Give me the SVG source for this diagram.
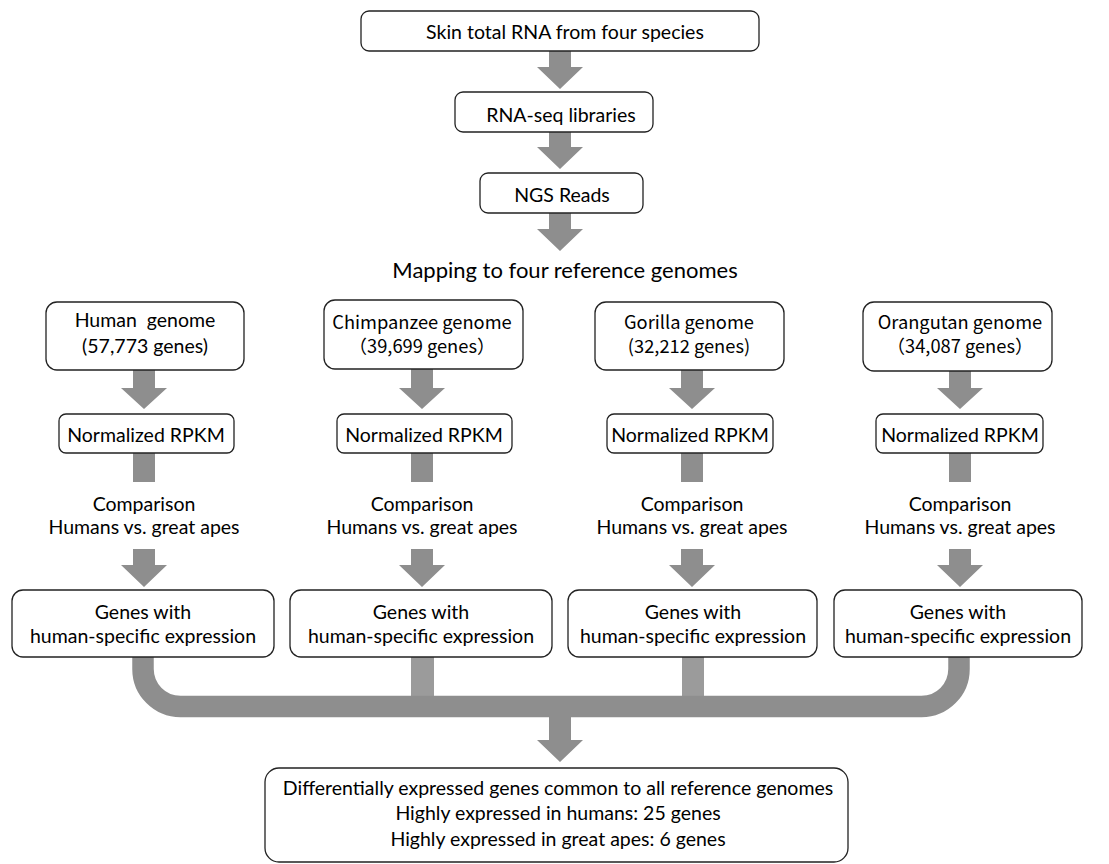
<svg xmlns="http://www.w3.org/2000/svg" width="1109" height="864" viewBox="0 0 1109 864">
<style>
.box{fill:#fff;stroke:#222;stroke-width:1.3}
.t{font-family:Lato,"Liberation Sans",sans-serif;font-size:19.5px;fill:#000;text-anchor:middle}
.j{font-family:"Noto Sans CJK JP","Noto Sans",sans-serif;font-size:18.3px;fill:#000;text-anchor:middle}
.big{font-size:22px}
.arr{fill:#8e8e8e}
.stub{fill:#9b9b9b}
.band{fill:none;stroke:#8e8e8e;stroke-width:21.5}
</style>
<rect width="1109" height="864" fill="#fff"/>
<g id="connectors">
<polygon class="arr" points="549,51 571,51 571,67 583,67 560,89 537,67 549,67"/>
<polygon class="arr" points="549,132 571,132 571,147 583,147 560,169 537,147 549,147"/>
<polygon class="arr" points="549,213 571,213 571,229 583,229 560,251 537,229 549,229"/>
<polygon class="arr" points="133,370 155,370 155,388 167,388 144,409 121,388 133,388"/>
<polygon class="arr" points="411,369 433,369 433,388 445,388 422,409 399,388 411,388"/>
<polygon class="arr" points="681,370 703,370 703,388 715,388 692,409 669,388 681,388"/>
<polygon class="arr" points="949,371 971,371 971,388 983,388 960,409 937,388 949,388"/>
<rect class="arr" x="133" y="453" width="22" height="29"/>
<rect class="arr" x="411" y="453" width="22" height="29"/>
<rect class="arr" x="681" y="453" width="22" height="29"/>
<rect class="arr" x="949" y="453" width="22" height="29"/>
<polygon class="arr" points="133,549 155,549 155,565 167,565 144,587 121,565 133,565"/>
<polygon class="arr" points="411,549 433,549 433,565 445,565 422,587 399,565 411,565"/>
<polygon class="arr" points="681,549 703,549 703,565 715,565 692,587 669,565 681,565"/>
<polygon class="arr" points="949,549 971,549 971,565 983,565 960,587 937,565 949,565"/>
<rect class="stub" x="411" y="657" width="23" height="40"/>
<rect class="stub" x="682" y="657" width="22" height="40"/>
<path class="band" d="M143,657 V669 A37.5,37.5 0 0 0 180.5,706.5 H921.5 A37.5,37.5 0 0 0 959,669 V657"/>
<polygon class="arr" points="549,716 571,716 571,740 583,740 560,762 537,740 549,740"/>
</g>
<g id="n-skin"><rect class="box" x="361" y="11" width="398" height="40" rx="8"/><text class="t" x="565" y="39">Skin total RNA from four species</text></g>
<g id="n-rnaseq"><rect class="box" x="455" y="92" width="198" height="40" rx="8"/><text class="t" x="561" y="122">RNA-seq libraries</text></g>
<g id="n-ngs"><rect class="box" x="480" y="173" width="163" height="40" rx="8"/><text class="t" x="562" y="202">NGS Reads</text></g>
<g id="n-mapping"><text class="t big" x="565" y="278">Mapping to four reference genomes</text></g>
<g id="n-human"><rect class="box" x="46" y="302" width="198" height="68" rx="11"/><text class="t" x="145" y="327" xml:space="preserve">Human  genome</text><text class="t" x="145" y="353">(57,773 genes)</text></g>
<g id="n-chimp"><rect class="box" x="324" y="300" width="199" height="69" rx="11"/><text class="j" x="422" y="329">Chimpanzee genome</text><text class="j" x="422" y="353">（39,699 genes）</text></g>
<g id="n-gorilla"><rect class="box" x="595" y="302" width="189" height="68" rx="11"/><text class="j" x="689" y="329">Gorilla genome</text><text class="j" x="689" y="353">(32,212 genes)</text></g>
<g id="n-orangutan"><rect class="box" x="863" y="302" width="189" height="69" rx="11"/><text class="j" x="960" y="329">Orangutan genome</text><text class="j" x="960" y="353">（34,087 genes）</text></g>
<g id="n-rpkm1"><rect class="box" x="59" y="414" width="175" height="39" rx="7"/><text class="t" x="146" y="442">Normalized RPKM</text></g>
<g id="n-rpkm2"><rect class="box" x="337" y="414" width="175" height="39" rx="7"/><text class="t" x="424" y="442">Normalized RPKM</text></g>
<g id="n-rpkm3"><rect class="box" x="607" y="414" width="166" height="39" rx="7"/><text class="t" x="690" y="442">Normalized RPKM</text></g>
<g id="n-rpkm4"><rect class="box" x="876" y="414" width="167" height="39" rx="7"/><text class="t" x="960" y="442">Normalized RPKM</text></g>
<g id="n-cmp1"><text class="t" x="144" y="511">Comparison</text><text class="t" x="144" y="534">Humans vs. great apes</text></g>
<g id="n-cmp2"><text class="t" x="422" y="511">Comparison</text><text class="t" x="422" y="534">Humans vs. great apes</text></g>
<g id="n-cmp3"><text class="t" x="692" y="511">Comparison</text><text class="t" x="692" y="534">Humans vs. great apes</text></g>
<g id="n-cmp4"><text class="t" x="960" y="511">Comparison</text><text class="t" x="960" y="534">Humans vs. great apes</text></g>
<g id="n-genes1"><rect class="box" x="12" y="590" width="262" height="67" rx="11"/><text class="t" x="143" y="619">Genes with</text><text class="t" x="143" y="643">human-specific expression</text></g>
<g id="n-genes2"><rect class="box" x="290" y="590" width="262" height="67" rx="11"/><text class="t" x="421" y="619">Genes with</text><text class="t" x="421" y="643">human-specific expression</text></g>
<g id="n-genes3"><rect class="box" x="568" y="590" width="249" height="67" rx="11"/><text class="t" x="693" y="619">Genes with</text><text class="t" x="693" y="643">human-specific expression</text></g>
<g id="n-genes4"><rect class="box" x="834" y="590" width="248" height="67" rx="11"/><text class="t" x="958" y="619">Genes with</text><text class="t" x="958" y="643">human-specific expression</text></g>
<g id="n-result"><rect class="box" x="265" y="768" width="583" height="94" rx="14"/><text class="t" x="558" y="795">Differentially expressed genes common to all reference genomes</text><text class="t" x="558" y="820">Highly expressed in humans: 25 genes</text><text class="t" x="558" y="846">Highly expressed in great apes: 6 genes</text></g>
</svg>
